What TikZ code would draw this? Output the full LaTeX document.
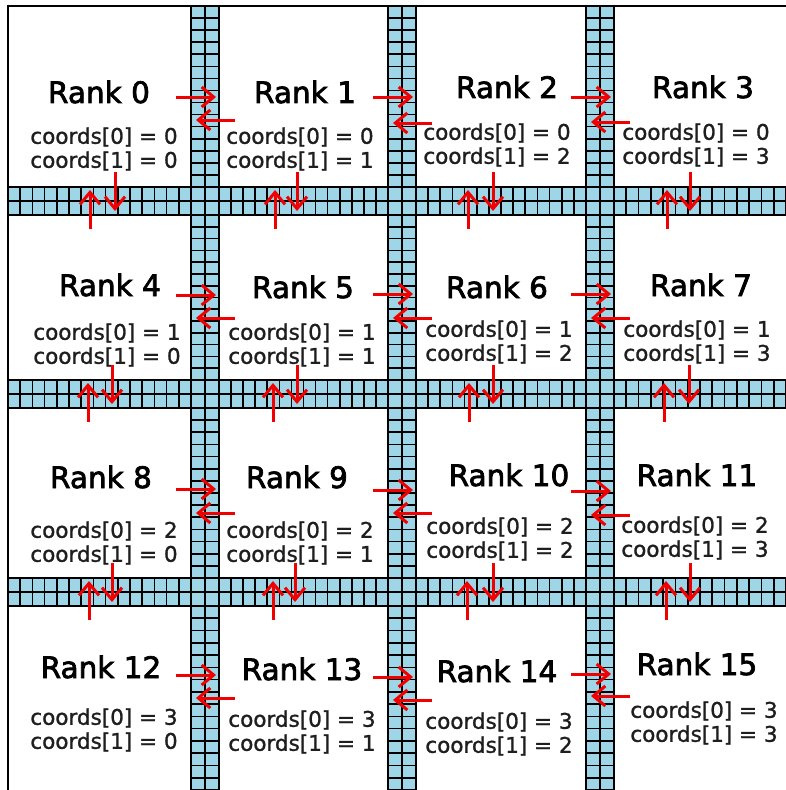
\documentclass[tikz,border=0pt]{standalone}
\usepackage{fontspec}
\setmainfont{DejaVu Sans}
\newfontfamily\rankfont{DejaVu Sans}[FakeBold=2.4]
\newfontfamily\crdfont{DejaVu Sans}[FakeBold=1.2]
\usetikzlibrary{arrows.meta}
\definecolor{ghost}{RGB}{158,214,232}
\definecolor{arrred}{RGB}{240,0,0}
\definecolor{txt}{RGB}{30,30,30}
\begin{document}
\begin{tikzpicture}[x=1pt,y=-1pt,
  cellline/.style={black,line width=1.6pt},
  midline/.style={black,line width=2.9pt},
  edgeline/.style={black,line width=1.8pt},
  border/.style={black,line width=2.6pt},
  ranklbl/.style={inner sep=0pt,font=\rankfont\fontsize{29.5}{31}\selectfont,text=black},
  crdlbl/.style={inner sep=0pt,align=center,font=\crdfont\fontsize{21.5}{24}\selectfont,text=txt},
  arr/.style={draw=arrred,line width=3pt,-{Straight Barb[length=12pt,width=20pt]}}]
\useasboundingbox (0,0) rectangle (786,790);
\fill[white] (0,0) rectangle (786,790);
% ghost-cell strips
\foreach \c in {205,402,600} {\fill[ghost] (\c-14,6) rectangle (\c+14,790);}
\foreach \c in {201,394,592} {\fill[ghost] (8,\c-14) rectangle (786,\c+14);}
% cell lines of the vertical strips, per segment between horizontal strips
\foreach \a/\b/\n in {6/187/15, 215/380/14, 408/578/14, 606/790/15} {
  \foreach \c in {205,402,600} {
    \foreach \i in {1,...,\n} {
      \pgfmathsetmacro{\yy}{\a+(\b-\a)*\i/\n}
      \draw[cellline] (\c-14,\yy) -- (\c+14,\yy);
    }
  }
}
% cell lines of the horizontal strips, per segment between vertical strips
\foreach \a/\b/\n in {8/191/15, 219/388/14, 416/586/14, 614/786/14} {
  \foreach \c in {201,394,592} {
    \foreach \i in {1,...,\n} {
      \pgfmathsetmacro{\xx}{\a+(\b-\a)*\i/\n}
      \draw[cellline] (\xx,\c-14) -- (\xx,\c+14);
    }
  }
}
% strip edges
\foreach \c in {205,402,600} {
  \draw[edgeline] (\c-14,6) -- (\c-14,790);
  \draw[edgeline] (\c+14,6) -- (\c+14,790);
}
\foreach \c in {201,394,592} {
  \draw[edgeline] (8,\c-14) -- (786,\c-14);
  \draw[edgeline] (8,\c+14) -- (786,\c+14);
}
% middle lines
\foreach \c in {205,402,600} {\draw[midline] (\c,6) -- (\c,790);}
\foreach \c in {201,394,592} {\draw[midline] (8,\c) -- (786,\c);}
% outer border
\draw[border] (8,790) -- (8,6) -- (786,6);
% rank labels
\node[ranklbl] (r0) at (99,92) {Rank 0};
\node[ranklbl] (r1) at (305,92) {Rank 1};
\node[ranklbl] (r2) at (507,87) {Rank 2};
\node[ranklbl] (r3) at (703,87) {Rank 3};
\node[ranklbl] (r4) at (110,285) {Rank 4};
\node[ranklbl] (r5) at (303,287) {Rank 5};
\node[ranklbl] (r6) at (497,287) {Rank 6};
\node[ranklbl] (r7) at (701,285) {Rank 7};
\node[ranklbl] (r8) at (101,477) {Rank 8};
\node[ranklbl] (r9) at (297,477) {Rank 9};
\node[ranklbl] (r10) at (509,475) {Rank 10};
\node[ranklbl] (r11) at (697,475) {Rank 11};
\node[ranklbl] (r12) at (101,667) {Rank 12};
\node[ranklbl] (r13) at (302,669) {Rank 13};
\node[ranklbl] (r14) at (497,671) {Rank 14};
\node[ranklbl] (r15) at (697,664) {Rank 15};
% coords labels
\node[crdlbl] (c0) at (104,149) {coords[0] = 0\\coords[1] = 0};
\node[crdlbl] (c1) at (300,149) {coords[0] = 0\\coords[1] = 1};
\node[crdlbl] (c2) at (497,145) {coords[0] = 0\\coords[1] = 2};
\node[crdlbl] (c3) at (696,145) {coords[0] = 0\\coords[1] = 3};
\node[crdlbl] (c4) at (107,345) {coords[0] = 1\\coords[1] = 0};
\node[crdlbl] (c5) at (302,345) {coords[0] = 1\\coords[1] = 1};
\node[crdlbl] (c6) at (499,342) {coords[0] = 1\\coords[1] = 2};
\node[crdlbl] (c7) at (697,342) {coords[0] = 1\\coords[1] = 3};
\node[crdlbl] (c8) at (104,543) {coords[0] = 2\\coords[1] = 0};
\node[crdlbl] (c9) at (300,543) {coords[0] = 2\\coords[1] = 1};
\node[crdlbl] (c10) at (500,539) {coords[0] = 2\\coords[1] = 2};
\node[crdlbl] (c11) at (695,538) {coords[0] = 2\\coords[1] = 3};
\node[crdlbl] (c12) at (104,730) {coords[0] = 3\\coords[1] = 0};
\node[crdlbl] (c13) at (302,732) {coords[0] = 3\\coords[1] = 1};
\node[crdlbl] (c14) at (499,734) {coords[0] = 3\\coords[1] = 2};
\node[crdlbl] (c15) at (704,723) {coords[0] = 3\\coords[1] = 3};
% horizontal exchange arrows (across vertical strips)
\foreach \c/\yr/\yl in {205/97/120, 205/295/318, 205/489/513, 205/675/698,
                        402/97/123, 402/294/318, 402/490/513, 402/677/700,
                        600/97/122, 600/294/318, 600/491/515, 600/674/696} {
  \draw[arr] (\c-29,\yr) -- (\c+11,\yr);
  \draw[arr] (\c+30,\yl) -- (\c-9,\yl);
}
% vertical exchange arrows (across horizontal strips)
\foreach \c/\xd/\xu in {201/115/90, 201/297/275, 201/493/468, 201/690/667,
                        394/112/88, 394/297/273, 394/493/469, 394/689/664,
                        592/112/89, 592/295/273, 592/493/467, 592/690/666} {
  \draw[arr] (\xd,\c-29) -- (\xd,\c+10);
  \draw[arr] (\xu,\c+28) -- (\xu,\c-11);
}
\end{tikzpicture}
\end{document}
